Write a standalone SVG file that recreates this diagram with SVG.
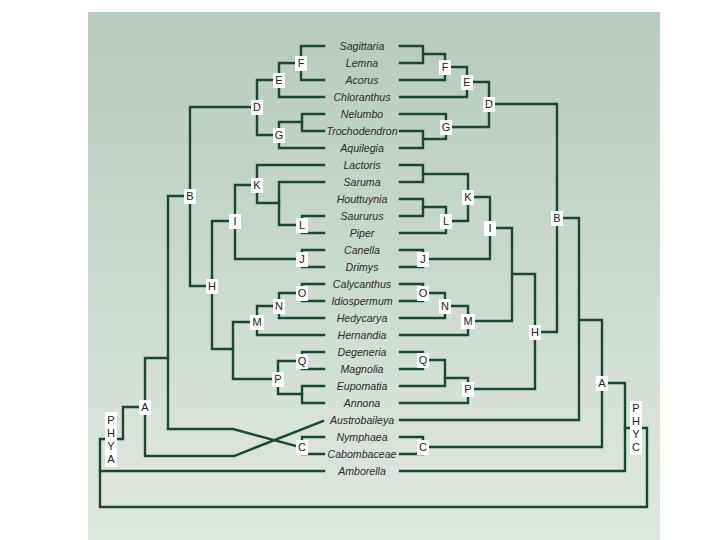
<svg xmlns="http://www.w3.org/2000/svg" width="720" height="540" viewBox="0 0 720 540">
<defs>
<linearGradient id="bg" x1="0" y1="0" x2="0" y2="1">
<stop offset="0" stop-color="#b5cbbd"/>
<stop offset="1" stop-color="#e0e8e2"/>
</linearGradient>
<style>
.ln{fill:none;stroke:#1b4731;stroke-width:2.4;stroke-linejoin:miter;stroke-linecap:square}
.tx{font-family:"Liberation Sans",Arial,sans-serif;font-style:italic;font-size:10.6px;fill:#2a2a2a;text-anchor:middle}
.bx{fill:#ffffff}
.lb{font-family:"Liberation Sans",Arial,sans-serif;font-size:11px;fill:#222;text-anchor:middle}
</style>
</defs>
<rect width="720" height="540" fill="#ffffff"/>
<rect x="88" y="12" width="572" height="528" fill="url(#bg)"/>
<g id="connectors" class="ln">
<path d="M324 46H301V80H324"/>
<path d="M301 63H279V97H324"/>
<path d="M324 114H302V131H324"/>
<path d="M302 122H279V148H324"/>
<path d="M279 80H257V135H279"/>
<path d="M257 107H190V286H212"/>
<path d="M324 165H257V203H279"/>
<path d="M324 182H279V225H302"/>
<path d="M324 216H302V233H324"/>
<path d="M324 250H302V267H324"/>
<path d="M257 185H235V259H302"/>
<path d="M235 221H212V349H233"/>
<path d="M324 284H302V301H324"/>
<path d="M302 293H279V318H324"/>
<path d="M279 306H257V335H324"/>
<path d="M257 322H233V379H278"/>
<path d="M324 352H302V369H324"/>
<path d="M324 386H302V403H324"/>
<path d="M302 361H278V394H302"/>
<path d="M324 437H302V454H324"/>
<path d="M190 196H168V429H233L300 447"/>
<path d="M168 358H145V456H234L323 421"/>
<path d="M145 407H123V439H100V471"/>
<path d="M324 471H100V507H647V428H625"/>
<path d="M400 46H423V63H400"/>
<path d="M423 54H445V80H400"/>
<path d="M445 67H467V97H400"/>
<path d="M400 131H423V148H400"/>
<path d="M400 114H446V139H423"/>
<path d="M467 82H489V127H446"/>
<path d="M489 104H557V332H535"/>
<path d="M400 165H423V182H400"/>
<path d="M400 199H423V216H400"/>
<path d="M423 207H446V233H400"/>
<path d="M423 174H468V221H446"/>
<path d="M400 250H423V267H400"/>
<path d="M468 197H490V259H423"/>
<path d="M400 284H423V301H400"/>
<path d="M423 293H445V318H400"/>
<path d="M445 306H468V335H400"/>
<path d="M490 228H512V321H468"/>
<path d="M400 352H423V369H400"/>
<path d="M423 360H445V386H400"/>
<path d="M445 378H468V403H400"/>
<path d="M512 274H535V389H468"/>
<path d="M557 218H579V420H400"/>
<path d="M400 437H423V454H400"/>
<path d="M579 320H602V447H423"/>
<path d="M602 383H625V471H400"/>
</g>
<g id="taxa" class="tx">
<text x="362" y="50">Sagittaria</text>
<text x="362" y="67">Lemna</text>
<text x="362" y="84">Acorus</text>
<text x="362" y="101">Chloranthus</text>
<text x="362" y="118">Nelumbo</text>
<text x="362" y="135">Trochodendron</text>
<text x="362" y="152">Aquilegia</text>
<text x="362" y="169">Lactoris</text>
<text x="362" y="186">Saruma</text>
<text x="362" y="203">Houttuynia</text>
<text x="362" y="220">Saururus</text>
<text x="362" y="237">Piper</text>
<text x="362" y="254">Canella</text>
<text x="362" y="271">Drimys</text>
<text x="362" y="288">Calycanthus</text>
<text x="362" y="305">Idiospermum</text>
<text x="362" y="322">Hedycarya</text>
<text x="362" y="339">Hernandia</text>
<text x="362" y="356">Degeneria</text>
<text x="362" y="373">Magnolia</text>
<text x="362" y="390">Eupomatia</text>
<text x="362" y="407">Annona</text>
<text x="362" y="424">Austrobaileya</text>
<text x="362" y="441">Nymphaea</text>
<text x="362" y="458">Cabombaceae</text>
<text x="362" y="475">Amborella</text>
</g>
<g id="nF_l"><rect class="bx" x="295" y="56" width="12" height="15"/><text class="lb" x="301" y="67">F</text></g>
<g id="nE_l"><rect class="bx" x="273" y="73" width="12" height="15"/><text class="lb" x="279" y="84">E</text></g>
<g id="nG_l"><rect class="bx" x="273" y="128" width="12" height="15"/><text class="lb" x="279" y="139">G</text></g>
<g id="nD_l"><rect class="bx" x="251" y="100" width="12" height="15"/><text class="lb" x="257" y="111">D</text></g>
<g id="nB_l"><rect class="bx" x="184" y="189" width="12" height="15"/><text class="lb" x="190" y="200">B</text></g>
<g id="nK_l"><rect class="bx" x="251" y="178" width="12" height="15"/><text class="lb" x="257" y="189">K</text></g>
<g id="nL_l"><rect class="bx" x="296" y="218" width="12" height="15"/><text class="lb" x="302" y="229">L</text></g>
<g id="nJ_l"><rect class="bx" x="296" y="252" width="12" height="15"/><text class="lb" x="302" y="263">J</text></g>
<g id="nI_l"><rect class="bx" x="229" y="214" width="12" height="15"/><text class="lb" x="235" y="225">I</text></g>
<g id="nH_l"><rect class="bx" x="206" y="279" width="12" height="15"/><text class="lb" x="212" y="290">H</text></g>
<g id="nO_l"><rect class="bx" x="296" y="286" width="12" height="15"/><text class="lb" x="302" y="297">O</text></g>
<g id="nN_l"><rect class="bx" x="273" y="299" width="12" height="15"/><text class="lb" x="279" y="310">N</text></g>
<g id="nM_l"><rect class="bx" x="250" y="315" width="14" height="15"/><text class="lb" x="257" y="326">M</text></g>
<g id="nQ_l"><rect class="bx" x="296" y="354" width="12" height="15"/><text class="lb" x="302" y="365">Q</text></g>
<g id="nP_l"><rect class="bx" x="272" y="372" width="12" height="15"/><text class="lb" x="278" y="383">P</text></g>
<g id="nC_l"><rect class="bx" x="296" y="440" width="12" height="15"/><text class="lb" x="302" y="451">C</text></g>
<g id="nA_l"><rect class="bx" x="139" y="400" width="12" height="15"/><text class="lb" x="145" y="411">A</text></g>
<g id="nPHYA"><rect class="bx" x="105" y="412" width="12" height="55"/>
<text class="lb" x="111" y="424">P</text><text class="lb" x="111" y="437">H</text><text class="lb" x="111" y="450">Y</text><text class="lb" x="111" y="463">A</text></g>
<g id="nF_r"><rect class="bx" x="439" y="60" width="12" height="15"/><text class="lb" x="445" y="71">F</text></g>
<g id="nE_r"><rect class="bx" x="461" y="75" width="12" height="15"/><text class="lb" x="467" y="86">E</text></g>
<g id="nG_r"><rect class="bx" x="440" y="120" width="12" height="15"/><text class="lb" x="446" y="131">G</text></g>
<g id="nD_r"><rect class="bx" x="483" y="97" width="12" height="15"/><text class="lb" x="489" y="108">D</text></g>
<g id="nB_r"><rect class="bx" x="551" y="211" width="12" height="15"/><text class="lb" x="557" y="222">B</text></g>
<g id="nK_r"><rect class="bx" x="462" y="190" width="12" height="15"/><text class="lb" x="468" y="201">K</text></g>
<g id="nL_r"><rect class="bx" x="440" y="214" width="12" height="15"/><text class="lb" x="446" y="225">L</text></g>
<g id="nJ_r"><rect class="bx" x="417" y="252" width="12" height="15"/><text class="lb" x="423" y="263">J</text></g>
<g id="nI_r"><rect class="bx" x="484" y="221" width="12" height="15"/><text class="lb" x="490" y="232">I</text></g>
<g id="nO_r"><rect class="bx" x="417" y="286" width="12" height="15"/><text class="lb" x="423" y="297">O</text></g>
<g id="nN_r"><rect class="bx" x="439" y="299" width="12" height="15"/><text class="lb" x="445" y="310">N</text></g>
<g id="nM_r"><rect class="bx" x="461" y="314" width="14" height="15"/><text class="lb" x="468" y="325">M</text></g>
<g id="nQ_r"><rect class="bx" x="417" y="353" width="12" height="15"/><text class="lb" x="423" y="364">Q</text></g>
<g id="nP_r"><rect class="bx" x="462" y="382" width="12" height="15"/><text class="lb" x="468" y="393">P</text></g>
<g id="nH_r"><rect class="bx" x="529" y="325" width="12" height="15"/><text class="lb" x="535" y="336">H</text></g>
<g id="nC_r"><rect class="bx" x="417" y="440" width="12" height="15"/><text class="lb" x="423" y="451">C</text></g>
<g id="nA_r"><rect class="bx" x="596" y="376" width="12" height="15"/><text class="lb" x="602" y="387">A</text></g>
<g id="nPHYC"><rect class="bx" x="630" y="401" width="12" height="54"/>
<text class="lb" x="636" y="412">P</text><text class="lb" x="636" y="425">H</text><text class="lb" x="636" y="438">Y</text><text class="lb" x="636" y="451">C</text></g>
</svg>
